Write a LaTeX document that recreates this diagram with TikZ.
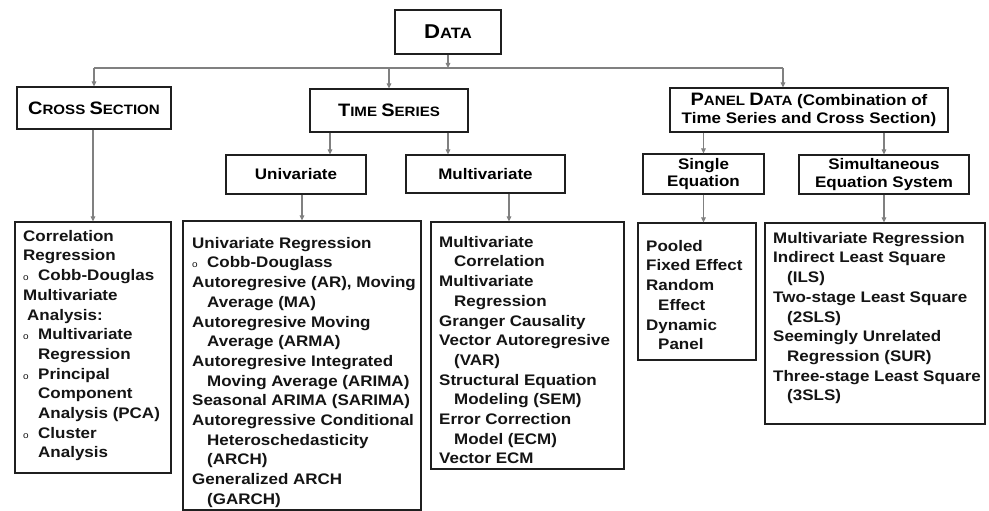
\documentclass[tikz,border=0pt]{standalone}
\usepackage{fontspec}
\setmainfont{Liberation Sans}[FakeStretch=1.11]
\usetikzlibrary{arrows.meta,shadows}
\newcommand\bodyfont{\fontsize{15.3}{19.7}\selectfont\bfseries}
\newcommand\hdrfont{\fontsize{15.3}{17.8}\selectfont\bfseries}
\newcommand\hb{\fontsize{18}{18}\selectfont}
\newcommand\hs{\fontsize{13.6}{13.6}\selectfont}
\newcommand\bul{\makebox[15pt][l]{\fontsize{9}{9}\selectfont\mdseries o}}
\newcommand\ind{\hspace*{15pt}}
\begin{document}
\begin{tikzpicture}[x=1pt,y=-1pt,
  box/.style={draw=black!88, line width=1.2pt, fill=white, inner sep=0pt, align=center, font=\hdrfont,
    drop shadow={shadow xshift=1.2pt,shadow yshift=-1.2pt,fill=black!40,opacity=0.5}},
  txt/.style={anchor=north west, inner sep=0pt, align=left, font=\bodyfont, text=black!92},
  conn/.style={draw=black!50, line width=1.1pt},
  arr/.style={conn, -{Triangle[length=5pt,width=4.6pt]}}]
\useasboundingbox[fill=white] (0,0) rectangle (989,511);

% header boxes
\node[box, minimum width=106pt, minimum height=44pt] (data) at (448,32) {\fontsize{20}{20}\selectfont D\fontsize{15}{15}\selectfont ATA};
\node[box, minimum width=154pt, minimum height=42pt] (cs) at (94,108) {\hb C\hs ROSS \hb S\hs ECTION};
\node[box, minimum width=158pt, minimum height=43pt] (ts) at (389,110.5) {\hb T\hs IME \hb S\hs ERIES};
\node[box, minimum width=278pt, minimum height=44pt] (pd) at (809,110) {\hb P\hs ANEL \hb D\hs ATA\hdrfont{} (Combination of\\Time Series and Cross Section)};
\node[box, minimum width=140pt, minimum height=39pt] (uni) at (296,174.5) {Univariate};
\node[box, minimum width=159pt, minimum height=38pt] (multi) at (485.5,174) {Multivariate};
\node[box, minimum width=121pt, minimum height=40pt] (single) at (703.5,174) {Single\\Equation};
\node[box, minimum width=170pt, minimum height=39pt] (simul) at (884,174.5) {Simultaneous\\Equation System};

% list boxes
\node[box, minimum width=156pt, minimum height=251pt] (csl) at (93,347.5) {};
\node[box, minimum width=238pt, minimum height=289pt] (unil) at (302,365.5) {};
\node[box, minimum width=193pt, minimum height=247pt] (multil) at (527.5,345.5) {};
\node[box, minimum width=118pt, minimum height=137pt] (singlel) at (697,291.5) {};
\node[box, minimum width=220pt, minimum height=201pt] (simull) at (875,323.5) {};

% list texts
\node[txt] (cst) at (23,230) {Correlation\\Regression\\\bul Cobb-Douglas\\Multivariate\\\hspace*{4pt}Analysis:\\\bul Multivariate\\\ind Regression\\\bul Principal\\\ind Component\\\ind Analysis (PCA)\\\bul Cluster\\\ind Analysis};
\node[txt] (unit) at (192,237) {Univariate Regression\\\bul Cobb-Douglass\\Autoregresive (AR), Moving\\\ind Average (MA)\\Autoregresive Moving\\\ind Average (ARMA)\\Autoregresive Integrated\\\ind Moving Average (ARIMA)\\Seasonal ARIMA (SARIMA)\\Autoregressive Conditional\\\ind Heteroschedasticity\\\ind (ARCH)\\Generalized ARCH\\\ind (GARCH)};
\node[txt] (multit) at (439,236) {Multivariate\\\ind Correlation\\Multivariate\\\ind Regression\\Granger Causality\\Vector Autoregresive\\\ind (VAR)\\Structural Equation\\\ind Modeling (SEM)\\Error Correction\\\ind Model (ECM)\\Vector ECM};
\node[txt] (singlet) at (646,240) {Pooled\\Fixed Effect\\Random\\\hspace*{12pt}Effect\\Dynamic\\\hspace*{12pt}Panel};
\node[txt] (simult) at (773,232) {Multivariate Regression\\Indirect Least Square\\\hspace*{14pt}(ILS)\\Two-stage Least Square\\\hspace*{14pt}(2SLS)\\Seemingly Unrelated\\\hspace*{14pt}Regression (SUR)\\Three-stage Least Square\\\hspace*{14pt}(3SLS)};

% connectors
\coordinate (bus) at (449,68);
\coordinate (pdin) at ([xshift=-26pt]pd.north);
\coordinate (tsu) at ([xshift=-59pt]ts.south);
\coordinate (tsm) at ([xshift=59pt]ts.south);
\coordinate (mm) at ([xshift=23.5pt]multi.south);
\draw[arr] (data.south) -- (data.south |- bus);
\draw[conn] (cs.north |- bus) -- (pdin |- bus);
\draw[arr] (cs.north |- bus) -- (cs.north);
\draw[arr] (ts.north |- bus) -- (ts.north);
\draw[arr] (pdin |- bus) -- (pdin);
\draw[arr] (tsu) -- (tsu |- uni.north);
\draw[arr] (tsm) -- (tsm |- multi.north);
\draw[arr] (unil.north |- uni.south) -- (unil.north);
\draw[arr] (mm) -- (mm |- multil.north);
\draw[arr] (csl.north |- cs.south) -- (csl.north);
\draw[arr] (single.north |- pd.south) -- (single.north);
\draw[arr] (simul.north |- pd.south) -- (simul.north);
\draw[arr] (single.south) -- (single.south |- singlel.north);
\draw[arr] (simul.south) -- (simul.south |- simull.north);
\end{tikzpicture}
\end{document}
